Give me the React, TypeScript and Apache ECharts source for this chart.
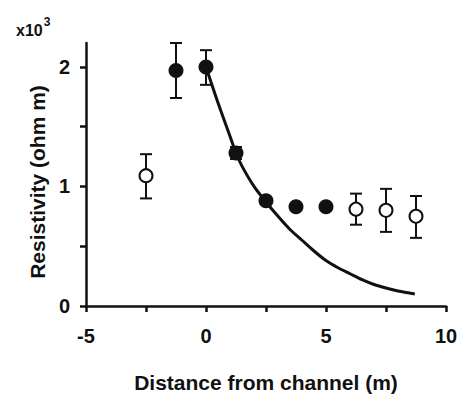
import React, { useEffect, useRef } from "react";
import * as echarts from "echarts";

const filledX = [-1.25, 0, 1.25, 2.5, 3.75, 5];
const filledY = [1.97, 2.0, 1.28, 0.88, 0.83, 0.83];
const filledLow = [1.74, 1.85, 1.23, 0.88, 0.83, 0.83];
const filledHigh = [2.2, 2.14, 1.33, 0.88, 0.83, 0.83];

const openX = [-2.5, 6.25, 7.5, 8.75];
const openY = [1.09, 0.81, 0.8, 0.75];
const openLow = [0.9, 0.68, 0.62, 0.57];
const openHigh = [1.27, 0.94, 0.98, 0.92];

const curveX = [0, 0.5, 1, 1.25, 1.5, 2, 2.5, 3, 3.5, 4, 4.5, 5, 5.5, 6, 6.5, 7, 7.5, 8, 8.7];
const curveY = [2.0, 1.7, 1.42, 1.28, 1.17, 1.0, 0.87, 0.75, 0.64, 0.55, 0.46, 0.38, 0.32, 0.27, 0.22, 0.18, 0.15, 0.125, 0.1];

const xTicks = [-5, 0, 5, 10];
const xMinorTicks = [-5, -2.5, 0, 2.5, 5, 7.5, 10];
const yTicks = [0, 1, 2];
const yMinorTicks = [0, 0.5, 1, 1.5, 2];

const FONT = "Liberation Sans, Arial, sans-serif";
const INK = "#111";

export default function App() {
  const ref = useRef<HTMLDivElement>(null);
  useEffect(() => {
    const chart = echarts.init(ref.current!, null, { renderer: "svg" });
    const errData = [
      ...filledX.map((x, i) => [x, filledLow[i], filledHigh[i]]),
      ...openX.map((x, i) => [x, openLow[i], openHigh[i]]),
    ].filter((d) => d[2] - d[1] > 0.001);
    chart.setOption({
      animation: false,
      backgroundColor: "#fff",
      grid: { left: 86, right: 16, top: 43, bottom: 93, containLabel: false },
      xAxis: {
        type: "value",
        min: -5,
        max: 10,
        interval: 5,
        name: "Distance from channel (m)",
        nameLocation: "middle",
        nameGap: 66,
        nameTextStyle: { fontFamily: FONT, fontWeight: "bold", fontSize: 21, color: INK },
        axisLine: { onZero: false, lineStyle: { color: INK, width: 2.5 } },
        axisTick: { show: true, inside: false, length: 6, lineStyle: { color: INK, width: 2.5 }, customValues: xMinorTicks },
        axisLabel: { fontFamily: FONT, fontWeight: "bold", fontSize: 20, color: INK, margin: 20, customValues: xTicks },
        splitLine: { show: false },
      },
      yAxis: {
        type: "value",
        min: 0,
        max: 2.2,
        interval: 1,
        axisLine: { onZero: false, lineStyle: { color: INK, width: 2.5 } },
        axisTick: { show: true, inside: false, length: 6, lineStyle: { color: INK, width: 2.5 }, customValues: yMinorTicks },
        axisLabel: { fontFamily: FONT, fontWeight: "bold", fontSize: 20, color: INK, margin: 16, customValues: yTicks },
        splitLine: { show: false },
      },
      graphic: [
        {
          type: "text",
          left: 16,
          top: 16,
          style: {
            text: "{a|x10}{b|3}",
            rich: {
              a: { fontFamily: FONT, fontSize: 16, fontWeight: "bold", fill: INK, verticalAlign: "bottom" },
              b: { fontFamily: FONT, fontSize: 12, fontWeight: "bold", fill: INK, verticalAlign: "top", padding: [0, 0, 10, 1] },
            },
          },
        },
        {
          type: "text",
          x: 37,
          y: 182,
          rotation: Math.PI / 2,
          style: {
            text: "Resistivity (ohm m)",
            fontFamily: FONT,
            fontSize: 21,
            fontWeight: "bold",
            fill: INK,
            align: "center",
            verticalAlign: "middle",
          },
        },
      ],
      series: [
        {
          type: "line",
          data: curveX.map((x, i) => [x, curveY[i]]),
          smooth: 0.3,
          showSymbol: false,
          symbol: "none",
          lineStyle: { color: INK, width: 3 },
          z: 2,
        },
        {
          type: "custom",
          data: errData,
          z: 3,
          renderItem: (params: any, api: any) => {
            const x = api.value(0);
            const lo = api.coord([x, api.value(1)]);
            const hi = api.coord([x, api.value(2)]);
            const w = 6;
            const style = { stroke: INK, lineWidth: 2 };
            return {
              type: "group",
              children: [
                { type: "line", shape: { x1: lo[0], y1: lo[1], x2: hi[0], y2: hi[1] }, style },
                { type: "line", shape: { x1: lo[0] - w, y1: lo[1], x2: lo[0] + w, y2: lo[1] }, style },
                { type: "line", shape: { x1: hi[0] - w, y1: hi[1], x2: hi[0] + w, y2: hi[1] }, style },
              ],
            };
          },
        },
        {
          type: "scatter",
          data: filledX.map((x, i) => [x, filledY[i]]),
          symbol: "circle",
          symbolSize: 15,
          itemStyle: { color: INK, opacity: 1 },
          z: 4,
        },
        {
          type: "scatter",
          data: openX.map((x, i) => [x, openY[i]]),
          symbol: "circle",
          symbolSize: 13,
          itemStyle: { color: "#fff", borderColor: INK, borderWidth: 2, opacity: 1 },
          z: 4,
        },
      ],
    });
    return () => chart.dispose();
  }, []);
  return <div ref={ref} style={{ width: 462, height: 399, position: "absolute", left: 0, top: 0 }} />;
}
